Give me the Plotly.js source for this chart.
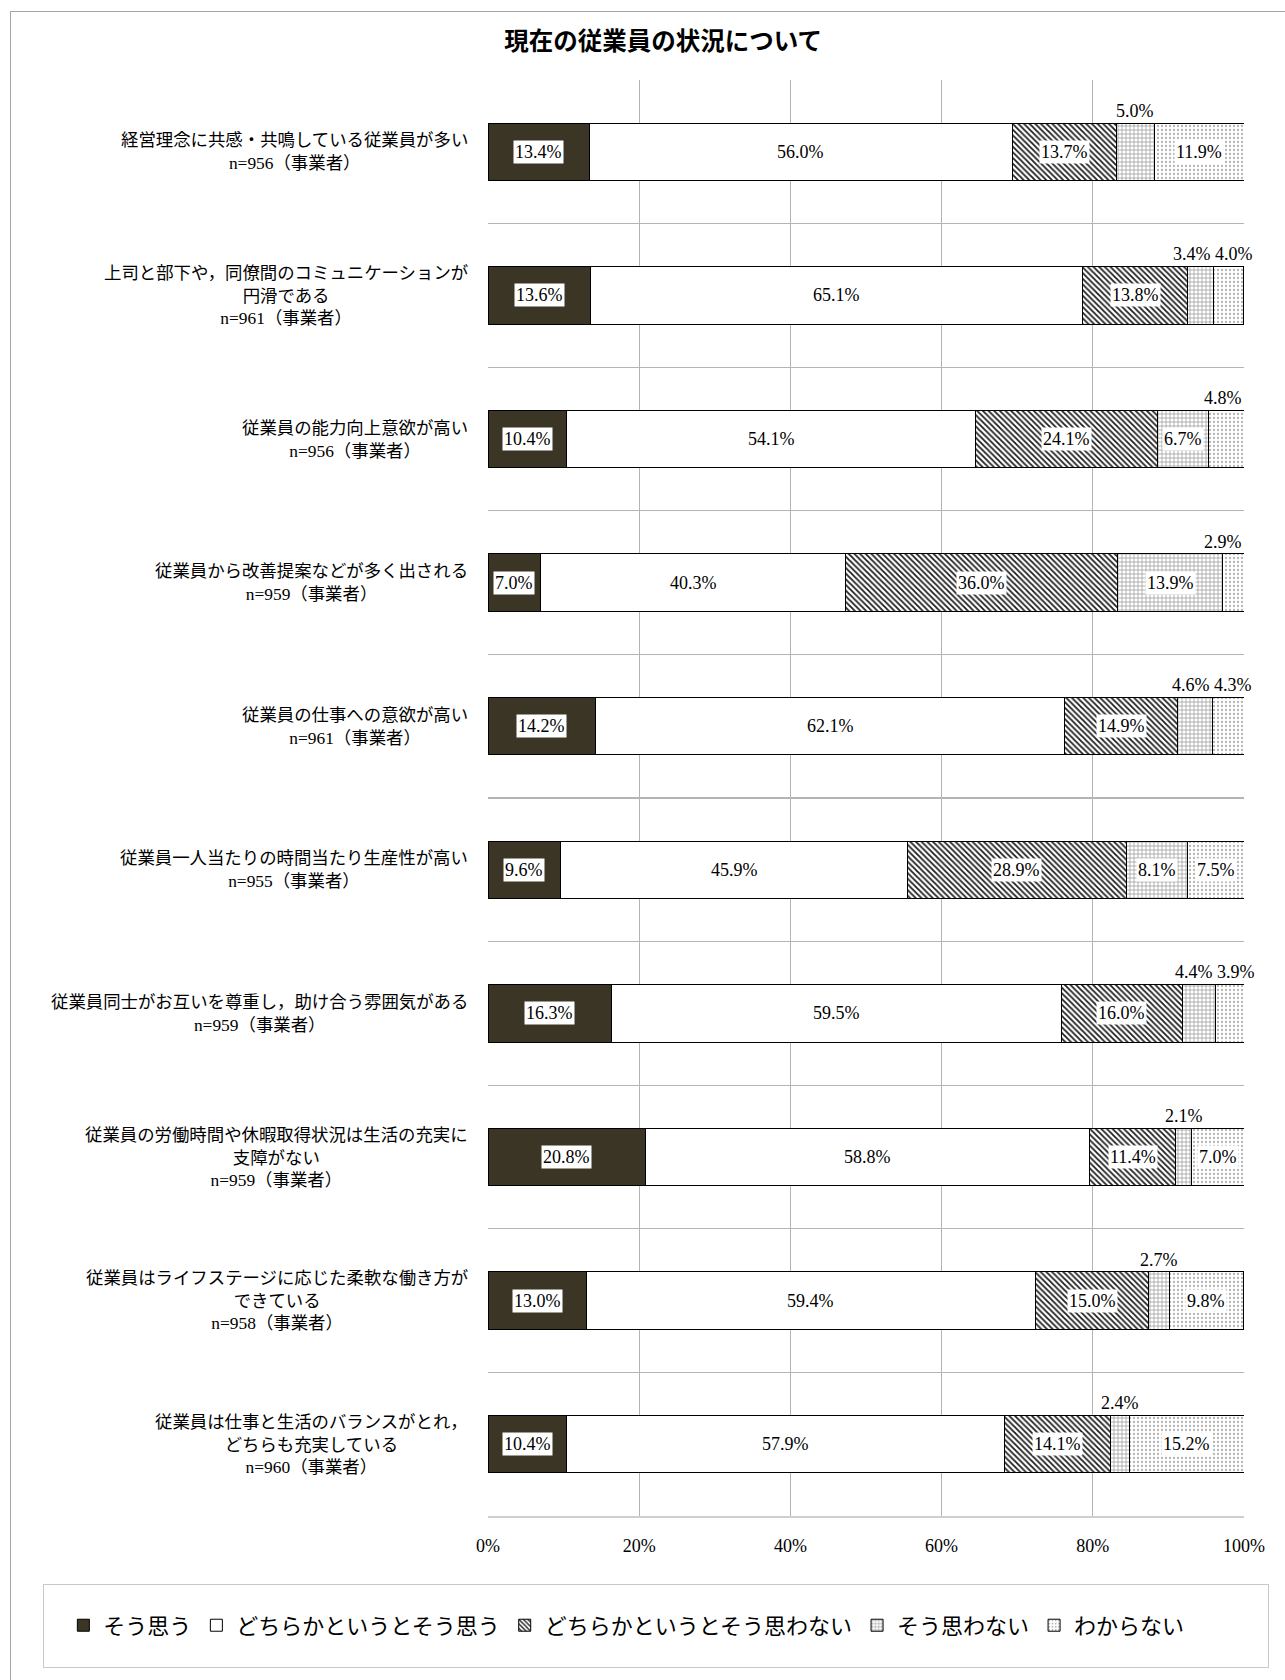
<!DOCTYPE html>
<html>
<head>
<meta charset="utf-8">
<script src="https://cdn.plot.ly/plotly-3.0.1.min.js"></script>
<style>
  html, body { margin: 0; padding: 0; background: #fff; }
  #chart { width: 1285px; height: 1680px; position: absolute; left: 0; top: 0; }
  #frame { position: absolute; left: 10px; top: 11px; width: 1400px; height: 1800px;
           border-left: 1.5px solid #a6a6a6; border-top: 1.5px solid #a6a6a6; pointer-events: none; }
  #legendbox { position: absolute; left: 43px; top: 1584px; width: 1224px; height: 82px;
           border: 1.5px solid #c8c8c8; pointer-events: none; }
</style>
</head>
<body>
<div id="chart"></div>
<div id="frame"></div>
<div id="legendbox"></div>
<script>
const categories = [
  "経営理念に共感・共鳴している従業員が多い",
  "上司と部下や，同僚間のコミュニケーションが円滑である",
  "従業員の能力向上意欲が高い",
  "従業員から改善提案などが多く出される",
  "従業員の仕事への意欲が高い",
  "従業員一人当たりの時間当たり生産性が高い",
  "従業員同士がお互いを尊重し，助け合う雰囲気がある",
  "従業員の労働時間や休暇取得状況は生活の充実に支障がない",
  "従業員はライフステージに応じた柔軟な働き方ができている",
  "従業員は仕事と生活のバランスがとれ，どちらも充実している"
];
const categoryLines = [
  "経営理念に共感・共鳴している従業員が多い",
  "上司と部下や，同僚間のコミュニケーションが<br>円滑である",
  "従業員の能力向上意欲が高い",
  "従業員から改善提案などが多く出される",
  "従業員の仕事への意欲が高い",
  "従業員一人当たりの時間当たり生産性が高い",
  "従業員同士がお互いを尊重し，助け合う雰囲気がある",
  "従業員の労働時間や休暇取得状況は生活の充実に<br>支障がない",
  "従業員はライフステージに応じた柔軟な働き方が<br>できている",
  "従業員は仕事と生活のバランスがとれ，<br>どちらも充実している"
];
const sampleSizes = [956, 961, 956, 959, 961, 955, 959, 959, 958, 960];

const seriesNames = ["そう思う", "どちらかというとそう思う", "どちらかというとそう思わない", "そう思わない", "わからない"];
const soOmou          = [13.4, 13.6, 10.4,  7.0, 14.2,  9.6, 16.3, 20.8, 13.0, 10.4];
const dochiraSoOmou   = [56.0, 65.1, 54.1, 40.3, 62.1, 45.9, 59.5, 58.8, 59.4, 57.9];
const dochiraOmowanai = [13.7, 13.8, 24.1, 36.0, 14.9, 28.9, 16.0, 11.4, 15.0, 14.1];
const omowanai        = [ 5.0,  3.4,  6.7, 13.9,  4.6,  8.1,  4.4,  2.1,  2.7,  2.4];
const wakaranai       = [11.9,  4.0,  4.8,  2.9,  4.3,  7.5,  3.9,  7.0,  9.8, 15.2];
const xTickVals = [0, 20, 40, 60, 80, 100];
const xTickText = ["0%", "20%", "40%", "60%", "80%", "100%"];

const series = [soOmou, dochiraSoOmou, dochiraOmowanai, omowanai, wakaranai];

const styles = [
  {color: "#3a3524", pattern: {shape: ""}},
  {color: "#ffffff", pattern: {shape: ""}},
  {color: "#ffffff", pattern: {shape: "\\", fgcolor: "#1e1e1e", bgcolor: "#ffffff", size: 4, solidity: 0.45}},
  {color: "#ffffff", pattern: {shape: "+", fgcolor: "#8c8c8c", bgcolor: "#ffffff", size: 4, solidity: 0.3}},
  {color: "#ffffff", pattern: {shape: ".", fgcolor: "#b4b4b4", bgcolor: "#ffffff", size: 4, solidity: 0.25}}
];

const serif = "Liberation Serif, DejaVu Serif, serif";
const jp = "Noto Sans CJK JP, sans-serif";

const traces = series.map((vals, i) => ({
  type: "bar",
  orientation: "h",
  name: seriesNames[i],
  y: categories,
  x: vals,
  marker: {
    color: styles[i].color,
    pattern: styles[i].pattern,
    line: {color: "#000000", width: 1}
  },
  hoverinfo: "x+name"
}));

const INSIDE_MIN = 6;
const annotations = [];
// category labels
categories.forEach((c, k) => {
  annotations.push({
    xref: "paper", yref: "y", x: 0, y: c, xshift: -18,
    xanchor: "right", yanchor: "middle", align: "center",
    text: categoryLines[k] + "<br>n=" + sampleSizes[k] + "（事業者）",
    showarrow: false,
    font: {family: "Liberation Serif, Noto Sans CJK JP, serif", size: 17.4, color: "#000"}
  });
});
// value labels
categories.forEach((c, k) => {
  let cum = 0;
  const vals = series.map(s => s[k]);
  vals.forEach((v, i) => {
    const start = cum;
    const end = cum + v;
    const mid = (start + end) / 2;
    cum = end;
    const label = v.toFixed(1) + "%";
    if (v >= INSIDE_MIN) {
      annotations.push({
        xref: "x", yref: "y", x: mid, y: c, showarrow: false,
        text: label, bgcolor: "#ffffff", borderpad: 1,
        xanchor: "center", yanchor: "middle",
        font: {family: serif, size: 18, color: "#000"}
      });
    } else {
      const nextAbove = i < vals.length - 1 && vals[i + 1] < INSIDE_MIN;
      const prevAbove = i > 0 && vals[i - 1] < INSIDE_MIN;
      let ax = mid, anchor = "center";
      if (nextAbove) { ax = end; anchor = "right"; }
      else if (prevAbove) { ax = start; anchor = "left"; }
      else if (mid + 2.6 > 100) { ax = 100; anchor = "right"; }
      annotations.push({
        xref: "x", yref: "y", x: ax, y: c, showarrow: false,
        text: label, yshift: 29,
        xanchor: anchor, yanchor: "bottom",
        font: {family: serif, size: 18, color: "#000"}
      });
    }
  });
});

const layout = {
  width: 1285, height: 1680,
  paper_bgcolor: "rgba(0,0,0,0)", plot_bgcolor: "#ffffff",
  barmode: "stack",
  bargap: 0.6,
  margin: {l: 488, r: 41, t: 80, b: 164, autoexpand: false},
  title: {
    text: "現在の従業員の状況について",
    font: {family: jp, size: 24.5, color: "#000", weight: "bold"},
    xref: "container", x: 0.516, xanchor: "center",
    yref: "container", y: 0.9755, yanchor: "middle"
  },
  xaxis: {
    range: [0, 100],
    tickvals: xTickVals, ticktext: xTickText,
    showgrid: true, gridcolor: "#b4b4b4", gridwidth: 1.3,
    zeroline: false, showline: true, linecolor: "#cfcfcf", linewidth: 2,
    ticks: "", ticklabelstandoff: 12,
    tickfont: {family: serif, size: 18, color: "#000"},
    fixedrange: true
  },
  yaxis: {
    type: "category",
    autorange: "reversed",
    tickson: "boundaries",
    showticklabels: false,
    ticks: "",
    showgrid: true, gridcolor: "#b4b4b4", gridwidth: 1.3,
    showline: false, zeroline: false,
    fixedrange: true
  },
  showlegend: true,
  legend: {
    orientation: "h",
    xref: "paper", yref: "paper",
    x: -0.5617, xanchor: "left", y: -0.0762, yanchor: "middle",
    font: {family: jp, size: 22, color: "#000"},
    itemwidth: 30,
    traceorder: "normal",
    bgcolor: "rgba(0,0,0,0)", borderwidth: 0
  },
  annotations: annotations
};

Plotly.newPlot("chart", traces, layout, {displayModeBar: false, staticPlot: true});
</script>
</body>
</html>
